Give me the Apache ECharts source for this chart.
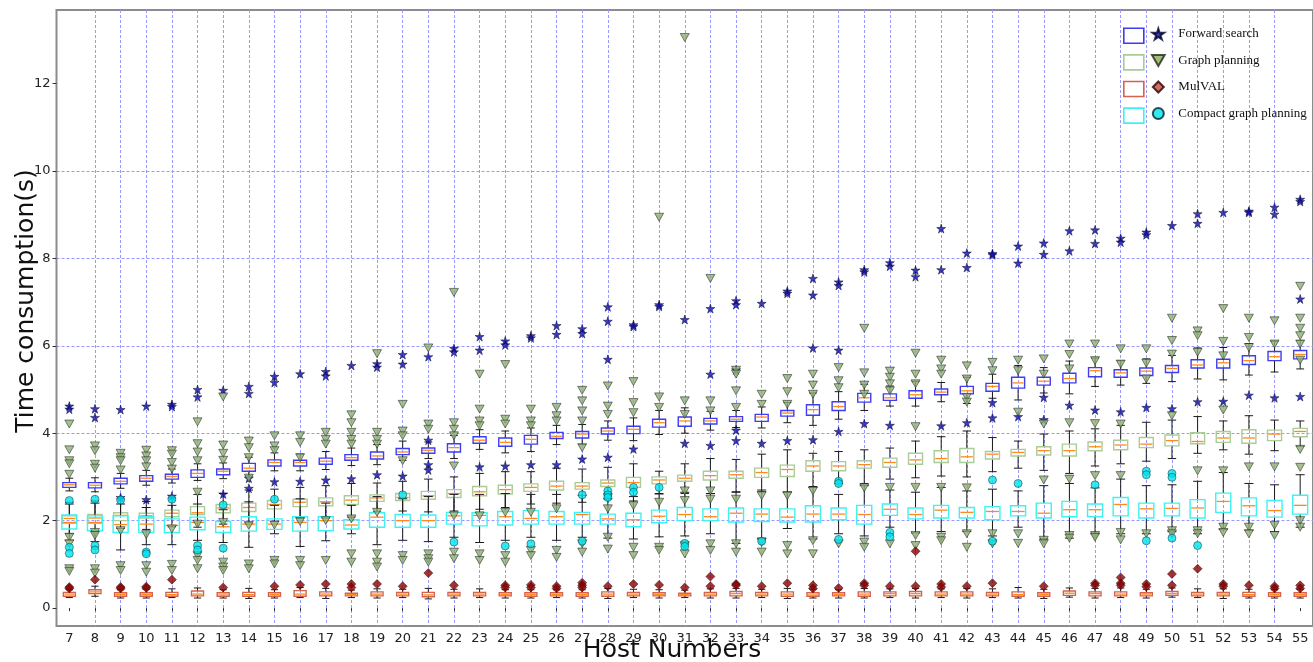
<!DOCTYPE html>
<html>
<head>
<meta charset="utf-8" />
<title>Time consumption</title>
<script src="https://cdn.jsdelivr.net/npm/echarts@6/dist/echarts.min.js"></script>
<style>
html,body{margin:0;padding:0;background:#fff;}
#chart{width:1313px;height:662px;}
</style>
</head>
<body>
<div id="chart"></div>
<script>
var hosts = [7,8,9,10,11,12,13,14,15,16,17,18,19,20,21,22,23,24,25,26,27,28,29,30,31,32,33,34,35,36,37,38,39,40,41,42,43,44,45,46,47,48,49,50,51,52,53,54,55];
var yTicks = [0,2,4,6,8,10,12];

// [lower whisker, q1, median, q3, upper whisker] for each host
var forwardBox = [
	[2.68,2.76,2.82,2.87,2.97],[2.66,2.75,2.81,2.87,2.98],[2.74,2.84,2.90,2.97,3.08],[2.81,2.90,2.97,3.03,3.15],[2.86,2.95,3.01,3.06,3.18],
	[2.92,2.99,3.08,3.16,3.30],[2.96,3.05,3.13,3.18,3.32],[3.02,3.13,3.20,3.31,3.45],[3.14,3.25,3.33,3.39,3.55],[3.14,3.25,3.33,3.38,3.52],
	[3.17,3.29,3.36,3.43,3.58],[3.26,3.38,3.44,3.51,3.66],[3.28,3.41,3.48,3.57,3.74],[3.38,3.51,3.57,3.65,3.82],[3.42,3.54,3.61,3.66,3.80],
	[3.42,3.57,3.67,3.76,3.95],[3.63,3.77,3.84,3.92,4.08],[3.55,3.70,3.79,3.89,4.05],[3.58,3.75,3.86,3.95,4.12],[3.74,3.88,3.93,4.02,4.18],
	[3.74,3.89,3.98,4.04,4.20],[3.84,3.98,4.05,4.12,4.28],[3.83,3.99,4.09,4.16,4.35],[3.97,4.14,4.24,4.32,4.52],[4.00,4.16,4.28,4.37,4.58],
	[4.07,4.21,4.28,4.34,4.50],[4.13,4.27,4.32,4.38,4.52],[4.12,4.27,4.37,4.43,4.60],[4.24,4.39,4.46,4.52,4.70],[4.18,4.41,4.54,4.65,4.92],
	[4.32,4.52,4.61,4.72,4.95],[4.52,4.71,4.81,4.91,5.12],[4.62,4.75,4.81,4.90,5.08],[4.62,4.80,4.88,4.97,5.18],[4.72,4.88,4.94,5.01,5.16],
	[4.68,4.90,4.97,5.07,5.28],[4.80,4.96,5.07,5.14,5.35],[4.76,5.03,5.15,5.28,5.55],[4.92,5.10,5.19,5.28,5.50],[4.90,5.15,5.25,5.37,5.65],
	[5.07,5.29,5.43,5.50,5.72],[5.10,5.28,5.38,5.45,5.66],[5.14,5.32,5.42,5.49,5.70],[5.18,5.39,5.48,5.55,5.78],[5.24,5.49,5.56,5.68,5.95],
	[5.22,5.49,5.61,5.69,5.96],[5.33,5.57,5.66,5.77,6.05],[5.40,5.66,5.75,5.87,6.10],[5.47,5.70,5.80,5.89,6.12]
];
var graphBox = [
	[1.70,1.94,2.05,2.11,2.42],[1.75,1.94,2.06,2.14,2.45],[1.82,2.00,2.12,2.18,2.50],[1.80,2.06,2.11,2.17,2.44],[1.86,2.09,2.17,2.24,2.52],
	[1.85,2.14,2.18,2.32,2.60],[1.92,2.18,2.29,2.37,2.62],[1.95,2.21,2.30,2.40,2.70],[1.98,2.27,2.37,2.46,2.72],[2.05,2.32,2.42,2.49,2.76],
	[2.06,2.34,2.43,2.52,2.80],[2.08,2.37,2.47,2.57,2.85],[2.20,2.44,2.52,2.59,2.86],[2.22,2.46,2.53,2.62,2.90],[2.20,2.49,2.57,2.67,2.95],
	[2.22,2.53,2.62,2.71,3.00],[2.26,2.57,2.66,2.78,3.08],[2.30,2.61,2.71,2.81,3.12],[2.38,2.67,2.76,2.84,3.12],[2.40,2.70,2.79,2.90,3.20],
	[2.42,2.72,2.79,2.87,3.18],[2.50,2.78,2.86,2.93,3.22],[2.45,2.76,2.87,2.99,3.30],[2.62,2.84,2.93,3.00,3.13],[2.62,2.90,2.97,3.04,3.30],
	[2.62,2.93,3.03,3.13,3.42],[2.66,2.97,3.05,3.13,3.40],[2.66,2.99,3.10,3.20,3.52],[2.65,3.01,3.17,3.27,3.62],[2.78,3.13,3.25,3.37,3.54],
	[2.85,3.14,3.25,3.35,3.58],[2.85,3.20,3.28,3.37,3.62],[2.95,3.22,3.33,3.43,3.66],[2.98,3.29,3.39,3.54,3.82],[3.02,3.33,3.42,3.60,3.92],
	[3.00,3.33,3.46,3.65,4.05],[3.12,3.41,3.52,3.58,3.90],[3.20,3.48,3.56,3.63,3.82],[3.15,3.50,3.60,3.69,3.98],[3.08,3.48,3.60,3.75,4.05],
	[3.25,3.60,3.69,3.80,4.10],[3.30,3.62,3.73,3.84,4.18],[3.36,3.67,3.75,3.90,4.25],[3.42,3.71,3.83,3.96,4.30],[3.54,3.76,3.81,4.01,4.38],
	[3.62,3.79,3.89,4.04,4.28],[3.52,3.77,3.89,4.08,4.40],[3.60,3.83,3.98,4.07,4.30],[3.70,3.92,4.04,4.11,4.28]
];
var mulvalBox = [
	[0.24,0.27,0.32,0.36,0.42],[0.27,0.33,0.37,0.42,0.50],[0.23,0.27,0.31,0.35,0.42],[0.23,0.27,0.31,0.35,0.43],[0.24,0.27,0.31,0.36,0.44],
	[0.23,0.28,0.32,0.39,0.46],[0.23,0.27,0.30,0.35,0.42],[0.22,0.27,0.31,0.36,0.45],[0.23,0.27,0.31,0.35,0.42],[0.24,0.27,0.32,0.40,0.47],
	[0.22,0.28,0.32,0.37,0.45],[0.24,0.28,0.31,0.34,0.41],[0.23,0.28,0.32,0.37,0.44],[0.24,0.28,0.32,0.36,0.43],[0.21,0.26,0.30,0.36,0.45],
	[0.23,0.28,0.32,0.36,0.43],[0.24,0.28,0.32,0.36,0.44],[0.23,0.28,0.31,0.35,0.42],[0.23,0.27,0.31,0.35,0.42],[0.24,0.28,0.31,0.35,0.42],
	[0.23,0.27,0.31,0.35,0.42],[0.22,0.27,0.32,0.37,0.45],[0.24,0.28,0.32,0.36,0.43],[0.23,0.28,0.31,0.35,0.42],[0.24,0.28,0.31,0.34,0.41],
	[0.23,0.28,0.32,0.36,0.44],[0.23,0.28,0.33,0.38,0.45],[0.24,0.28,0.32,0.36,0.43],[0.22,0.27,0.32,0.37,0.45],[0.23,0.27,0.30,0.35,0.43],
	[0.23,0.28,0.31,0.35,0.42],[0.23,0.27,0.32,0.37,0.45],[0.24,0.28,0.33,0.37,0.44],[0.23,0.28,0.33,0.38,0.45],[0.24,0.28,0.32,0.37,0.44],
	[0.23,0.28,0.32,0.37,0.45],[0.24,0.28,0.32,0.36,0.44],[0.23,0.27,0.31,0.37,0.47],[0.22,0.27,0.31,0.35,0.43],[0.25,0.29,0.34,0.39,0.46],
	[0.23,0.28,0.33,0.37,0.45],[0.24,0.28,0.32,0.37,0.46],[0.23,0.28,0.32,0.35,0.43],[0.25,0.29,0.33,0.38,0.46],[0.24,0.28,0.32,0.36,0.44],
	[0.22,0.28,0.32,0.36,0.44],[0.23,0.27,0.31,0.36,0.43],[0.23,0.27,0.31,0.35,0.42],[0.23,0.27,0.31,0.35,0.43]
];
var compactBox = [
	[1.55,1.81,1.96,2.13,2.38],[1.52,1.77,1.96,2.11,2.40],[1.33,1.73,1.91,2.11,2.38],[1.45,1.73,1.92,2.09,2.30],[1.45,1.73,1.89,2.04,2.35],
	[1.55,1.79,1.96,2.08,2.38],[1.50,1.73,1.86,1.98,2.25],[1.39,1.76,1.92,2.09,2.43],[1.70,1.80,1.92,2.04,2.35],[1.41,1.76,1.96,2.09,2.50],
	[1.54,1.77,2.00,2.09,2.40],[1.70,1.81,1.90,2.02,2.35],[1.45,1.85,2.08,2.18,2.55],[1.55,1.85,2.00,2.14,2.50],[1.52,1.85,2.00,2.13,2.55],
	[1.62,1.92,2.11,2.19,2.60],[1.50,1.88,2.12,2.18,2.60],[1.55,1.90,2.09,2.21,2.62],[1.62,1.92,2.05,2.23,2.60],[1.55,1.92,2.09,2.21,2.60],
	[1.62,1.92,2.14,2.19,2.58],[1.60,1.92,2.04,2.15,2.50],[1.58,1.86,2.02,2.17,2.55],[1.63,1.95,2.10,2.24,2.61],[1.65,2.00,2.14,2.30,2.65],
	[1.70,2.00,2.09,2.27,2.62],[1.48,1.97,2.17,2.29,2.65],[1.60,1.98,2.15,2.27,2.70],[1.82,1.97,2.08,2.27,2.65],[1.58,1.97,2.15,2.34,2.76],
	[1.70,2.02,2.15,2.29,2.60],[1.65,1.92,2.14,2.35,2.80],[1.85,2.12,2.26,2.38,2.70],[1.72,2.04,2.14,2.29,2.65],[1.75,2.06,2.24,2.35,2.76],
	[1.75,2.06,2.19,2.30,2.68],[1.65,2.02,2.21,2.32,2.72],[1.85,2.11,2.21,2.34,2.68],[1.58,2.06,2.17,2.40,2.80],[1.60,2.09,2.25,2.44,2.85],
	[1.70,2.09,2.25,2.38,2.75],[1.70,2.11,2.37,2.53,2.95],[1.70,2.06,2.27,2.40,2.80],[1.75,2.11,2.28,2.40,2.82],[1.70,2.06,2.29,2.48,2.90],
	[1.80,2.19,2.44,2.63,3.10],[1.78,2.11,2.34,2.52,2.85],[1.75,2.08,2.23,2.46,2.82],[1.85,2.15,2.35,2.58,3.05]
];

// outliers for each host
var forwardOut = [
	[4.62,4.55],[4.56,4.36],[4.54,2.53],[4.62,2.48],[4.66,4.61,2.56],[5.00,4.83],[4.98,2.61],[5.07,4.91,2.97,2.74],[5.30,5.16,2.89],[5.36,2.90],
	[5.41,5.31,2.93],[5.55,2.96],[5.59,5.51,3.05],[5.80,5.58,3.02],[5.75,3.84,3.28,3.16],[5.94,5.86],[6.21,5.90,3.23],[6.11,6.02,3.25],[6.23,6.18,3.28],[6.46,6.26,3.28],
	[6.39,6.28,3.41],[6.89,6.56,5.69,3.45],[6.48,6.44,3.64],[6.94,6.90],[6.60,3.77],[6.85,5.35,3.72],[7.03,6.94,5.45,4.07,3.83],[6.97,3.77],[7.25,7.20,3.83],[7.54,7.16,5.95,3.85],
	[7.46,7.38,5.90,4.04],[7.74,7.69,4.22],[7.90,7.82,4.18],[7.73,7.58],[8.68,7.74,4.17],[8.12,7.79,4.24],[8.11,8.08,4.70,4.35],[8.28,7.89,4.38],[8.35,8.09,4.82,4.31],[8.63,8.17,4.64],
	[8.65,8.34,4.53],[8.46,8.37,4.49],[8.60,8.54,4.59],[8.75,4.56],[9.02,8.80,4.72],[9.05,4.73],[9.08,9.05,4.87],[9.17,9.01,4.81],[9.35,9.30,7.07,4.84]
];
var graphOut = [
	[4.21,3.62,3.37,3.30,3.06,1.62,1.47,0.90,0.84],[3.71,3.60,3.29,3.20,1.73,1.66,0.90,0.80],[3.54,3.44,3.37,3.16,1.77,0.97,0.86],[3.61,3.48,3.37,3.23,1.68,0.97,0.82],
	[3.60,3.52,3.33,3.18,1.81,1.00,0.86],[4.26,3.76,3.57,3.37,2.65,1.92,1.20,1.09,0.90],[4.83,3.73,3.54,3.38,1.96,1.05,0.94,0.86],[3.82,3.67,3.44,2.97,1.89,1.01,0.90],
	[3.94,3.71,3.60,1.90,1.09,1.01],[3.94,3.79,3.44,1.98,1.09,0.97],[4.02,3.86,3.75,2.00,1.09],[4.42,4.24,4.02,3.86,3.75,2.04,1.24,1.05],
	[5.82,4.02,3.86,3.75,2.19,1.24,1.05,0.94],[4.66,4.05,3.94,3.37,1.20,1.09],[5.95,4.21,4.09,1.24,1.13,1.05],[7.22,4.24,4.09,3.94,3.25,2.11,1.28,1.13],
	[5.35,4.55,4.28,4.17,2.11,1.24,1.09],[5.57,4.32,4.21,2.19,1.20,1.05],[4.55,4.28,4.17,2.19,1.32,1.20],[4.59,4.40,4.28,2.27,1.32,1.16],
	[4.98,4.74,4.51,4.28,3.67,1.47,1.28],[5.08,4.62,4.43,2.53,2.27,1.62,1.35],[5.18,4.70,4.47,2.34,1.39,1.20],[8.94,4.83,4.59,2.42,1.39,1.32],
	[13.05,4.74,4.43,2.68,2.46,1.43,1.24],[7.54,4.74,4.51,2.68,2.49,1.47,1.32],[5.44,5.35,4.97,4.59,2.49,1.47,1.28],[4.89,4.66,2.57,1.50,1.28],
	[5.25,4.95,4.66,2.57,1.43,1.24],[5.35,5.10,4.89,2.68,1.54,1.24],[5.50,5.20,5.04,1.47],[6.40,5.38,5.10,4.89,2.75,1.51,1.39],
	[5.42,5.28,5.13,4.97,2.76,1.47],[5.83,5.35,5.13,4.15,2.76,1.66,1.43],[5.67,5.47,5.35,2.76,1.62,1.54],[5.54,5.24,4.82,4.71,2.75,1.70,1.39],
	[5.62,5.43,1.70,1.47],[5.67,5.43,4.48,1.70,1.48],[5.70,5.35,4.21,2.93,1.55,1.47],[6.04,5.80,5.47,4.24,2.95,1.66,1.60],
	[6.04,5.66,4.22,3.03,1.66,1.62],[5.93,5.58,4.21,3.03,1.73,1.56],[5.93,5.60,5.24,1.70],[6.63,6.12,5.81,4.40,1.77,1.70],
	[6.34,6.23,5.85,3.14,1.77,1.70],[6.85,6.10,5.77,4.53,3.14,1.85,1.73],[6.63,6.19,5.96,3.23,1.85,1.70],[6.57,6.04,3.23,1.89,1.66],
	[7.36,6.63,6.40,6.23,6.04,5.67,3.63,3.22,2.00,1.85]
];
var mulvalOut = [
	[0.48,0.45],[0.65],[0.48,0.45],[0.49,0.46],[0.65],[],[0.47],[],[0.50],[0.53],
	[0.55],[0.55,0.47],[0.55],[0.50],[0.80],[0.52],[],[0.52,0.47],[0.53,0.47],[0.50,0.45],
	[0.58,0.52,0.47],[0.50],[0.55],[0.53],[0.47],[0.72,0.50],[0.55,0.52],[0.50],[0.57],[0.52,0.45],
	[0.46],[0.57,0.52],[0.50],[1.30,0.50],[0.55,0.48],[0.50],[0.57],[],[0.50],[],
	[0.57,0.52],[0.70,0.57,0.52],[0.55,0.49],[0.78,0.52],[0.90],[0.55,0.50],[0.52],[0.50,0.45],[0.52,0.45]
];
var compactOut = [
	[2.46,1.39,1.25],[2.49,1.43,1.33],[2.47],[1.28,1.24],[2.49],[1.43,1.33],[2.36,1.37],[],[2.49],[],
	[],[],[],[2.59],[],[1.51],[],[1.42],[1.47],[],
	[2.59,1.53],[2.68,2.59,2.53],[2.76,2.65],[2.76],[1.48,1.41],[],[],[1.53],[],[],
	[2.90,2.85,1.57],[],[1.73,1.63],[],[],[],[2.93,1.53],[2.85],[],[],
	[2.82],[],[3.13,3.05,1.54],[3.08,2.99,1.60],[1.43],[],[],[],[]
];

var names = ['Forward search','Graph planning','MulVAL','Compact graph planning'];
var boxColors = ['#3d3df2','#a9cc98','#d4624f','#3cf2f2'];
var starPath = 'path://M50,0L61,35L98,35L68,57L79,91L50,70L21,91L32,57L2,35L39,35Z';
var downTri = 'path://M0,0L10,0L5,8.7Z';
var diamondPath = 'path://M5,0L10,5L5,10L0,5Z';

function boxData(box){
	var d = [];
	for(var i=0;i<hosts.length;i++){
		d.push([hosts[i]].concat(box[i]));
	}
	return d;
}
function outData(outs){
	var d = [];
	for(var i=0;i<hosts.length;i++){
		for(var j=0;j<outs[i].length;j++){
			d.push([hosts[i], outs[i][j]]);
		}
	}
	return d;
}
//box + black whiskers + orange median
function boxRenderer(color, w){
	return function(params, api){
		var x = api.value(0);
		var lo = api.coord([x, api.value(1)]);
		var q1 = api.coord([x, api.value(2)]);
		var md = api.coord([x, api.value(3)]);
		var q3 = api.coord([x, api.value(4)]);
		var hi = api.coord([x, api.value(5)]);
		var cx = lo[0], cap = w*0.6;
		var blk = {stroke:'#1a1a1a', lineWidth:1};
		return {
			type:'group',
			children:[
				{type:'line', shape:{x1:cx,y1:lo[1],x2:cx,y2:q1[1]}, style:blk},
				{type:'line', shape:{x1:cx,y1:q3[1],x2:cx,y2:hi[1]}, style:blk},
				{type:'line', shape:{x1:cx-cap/2,y1:lo[1],x2:cx+cap/2,y2:lo[1]}, style:blk},
				{type:'line', shape:{x1:cx-cap/2,y1:hi[1],x2:cx+cap/2,y2:hi[1]}, style:blk},
				{type:'rect', shape:{x:cx-w/2,y:q3[1],width:w,height:q1[1]-q3[1]}, style:{fill:'none',stroke:color,lineWidth:1.4}},
				{type:'line', shape:{x1:cx-w/2+1,y1:md[1],x2:cx+w/2-1,y2:md[1]}, style:{stroke:'#ff8a1c',lineWidth:1.3}}
			]
		};
	};
}

var boxes = [forwardBox, graphBox, mulvalBox, compactBox];
var widths = [13, 14, 12, 15];
var series = [];
for(var k=0;k<4;k++){
	series.push({
		type:'custom',
		name:names[k]+' box',
		renderItem:boxRenderer(boxColors[k], widths[k]),
		data:boxData(boxes[k]),
		encode:{x:0, y:[1,2,3,4,5]},
		silent:true
	});
}
series.push({type:'scatter', name:names[0], data:outData(forwardOut), symbol:starPath, symbolSize:9,
	itemStyle:{color:'#0c0cae', borderColor:'#00002a', borderWidth:0.6}});
series.push({type:'scatter', name:names[1], data:outData(graphOut), symbol:downTri, symbolSize:[9,8],
	itemStyle:{color:'#8fae78', borderColor:'#1e2a18', borderWidth:0.7}});
series.push({type:'scatter', name:names[2], data:outData(mulvalOut), symbol:'diamond', symbolSize:9,
	itemStyle:{color:'#8b0000', borderColor:'#2a0000', borderWidth:0.6}});
series.push({type:'scatter', name:names[3], data:outData(compactOut), symbol:'circle', symbolSize:8,
	itemStyle:{color:'#00e4ee', borderColor:'#00262a', borderWidth:0.6}});

var chart = echarts.init(document.getElementById('chart'));
chart.setOption({
	animation:false,
	grid:{left:56.5, top:10, width:1259, height:616, show:true, borderColor:'#8c8c8c', borderWidth:2},
	xAxis:{
		type:'value', min:6.5, max:55.5, splitNumber:49, minInterval:1, maxInterval:1,
		axisLine:{show:false},
		axisTick:{show:true, length:3, customValues:hosts, lineStyle:{color:'#333'}},
		axisLabel:{customValues:hosts, color:'#222', fontFamily:'DejaVu Sans', fontSize:13, margin:6},
		splitLine:{show:true, showMinLine:false, showMaxLine:false, lineStyle:{color:'#9999ff', type:[3,2], width:1}}
	},
	yAxis:{
		type:'value', min:-0.41, max:13.68, splitNumber:7,
		axisLine:{show:false},
		axisTick:{show:true, length:4, customValues:yTicks, lineStyle:{color:'#333'}},
		axisLabel:{customValues:yTicks, color:'#222', fontFamily:'DejaVu Sans', fontSize:13, margin:6},
		splitLine:{show:true, showMinLine:false, showMaxLine:false, lineStyle:{color:'#9999ff', type:[3,2], width:1}}
	},
	legend:[
		{
			orient:'vertical', left:1123, top:27.5, padding:0, itemWidth:20, itemHeight:15, itemGap:10,
			selectedMode:false, formatter:function(){return '';}, textStyle:{fontSize:6, lineHeight:6},
			data:names.map(function(n,i){
				return {name:n+' box', icon:'rect', itemStyle:{color:'rgba(255,255,255,0)', borderColor:boxColors[i], borderWidth:1.6}};
			})
		},
		{
			orient:'vertical', left:1151, top:27, padding:0, itemWidth:30, itemHeight:11, itemGap:12.5,
			selectedMode:false,
			textStyle:{fontFamily:'Liberation Serif', fontSize:13, color:'#111', lineHeight:14},
			data:[
				{name:names[0]},
				{name:names[1], itemStyle:{color:'#8faa55'}},
				{name:names[2], icon:diamondPath, itemStyle:{color:'#c4493c'}},
				{name:names[3]}
			]
		}
	],
	graphic:[
		{type:'text', x:672, y:650, style:{text:'Host Numbers', font:'25px "DejaVu Sans"', fill:'#111', textAlign:'center', textVerticalAlign:'middle'}},
		{type:'text', x:26, y:301, rotation:Math.PI/2, style:{text:'Time consumption(s)', font:'25px "DejaVu Sans"', fill:'#111', textAlign:'center', textVerticalAlign:'middle'}}
	],
	series:series
});
</script>
</body>
</html>
